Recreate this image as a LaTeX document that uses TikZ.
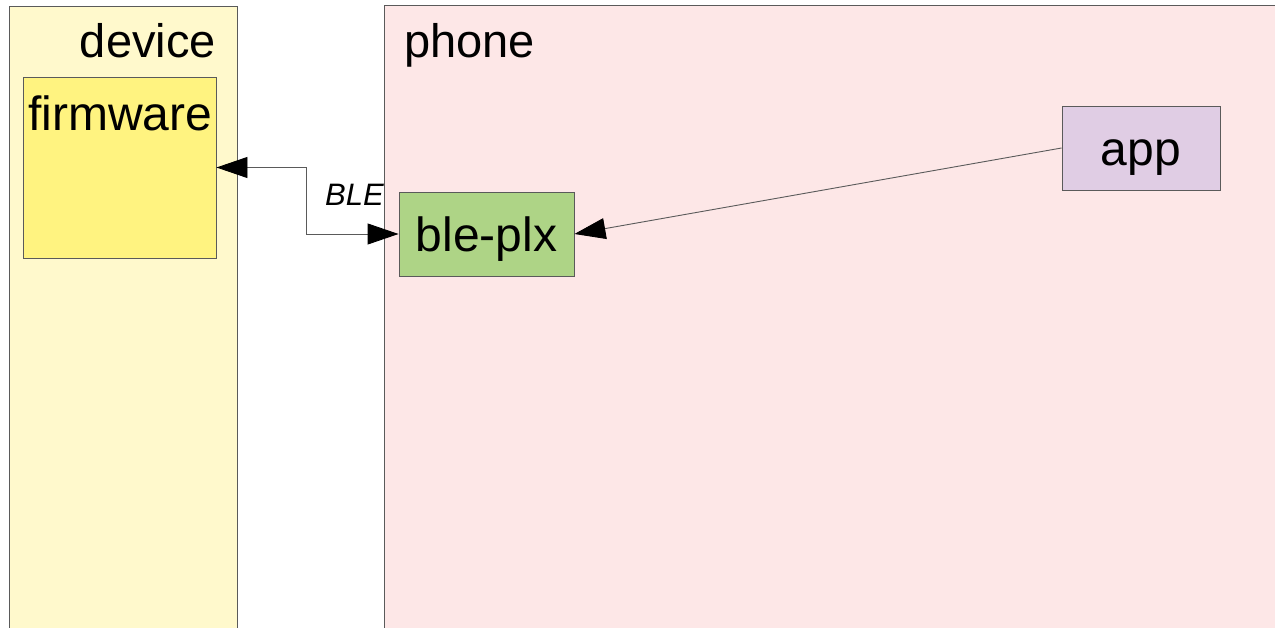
\documentclass[tikz,border=0pt]{standalone}
\usepackage{fontspec}
\setmainfont{Liberation Sans}
\usetikzlibrary{arrows.meta}
\definecolor{devfill}{HTML}{FFF9CC}
\definecolor{fwfill}{HTML}{FFF380}
\definecolor{phonefill}{HTML}{FDE7E7}
\definecolor{blefill}{HTML}{AED486}
\definecolor{appfill}{HTML}{E0CDE4}
\definecolor{edge}{HTML}{5A5A5A}
\tikzset{
  zone/.style={draw=edge, line width=0.9pt},
  comp/.style={draw=edge, line width=0.9pt, inner sep=0pt, text height=41pt, text depth=6pt,
    font=\fontsize{48}{50}\selectfont},
  title/.style={font=\fontsize{47}{50}\selectfont, inner sep=0pt},
  link/.style={draw=edge, line width=0.9pt},
  tip/.style={-{Triangle[length=31pt,width=21pt,color=black]}},
  tips/.style={{Triangle[length=31pt,width=21pt,color=black]}-{Triangle[length=31pt,width=21pt,color=black]}}
}
\begin{document}
\begin{tikzpicture}[x=1pt,y=-1pt]
  \useasboundingbox (0,0) rectangle (1275,628);
  \fill[white] (0,0) rectangle (1275,628);
  \begin{scope}
    \clip (0,0) rectangle (1275,627);
    % swim lanes
    \filldraw[zone, fill=devfill] (9,6) rectangle (237,700);
    \filldraw[zone, fill=phonefill] (384.5,5.5) rectangle (1300,700);
  \end{scope}
  \node[title, anchor=base east] (devlbl) at (216,58) {device};
  \node[title, anchor=base west] (phonelbl) at (404,58) {phone};

  % components
  \node[comp, fill=fwfill, minimum width=193pt, minimum height=181pt] (fw) at (119.5,167.5) {};
  \node[title, font=\fontsize{48}{50}\selectfont, anchor=base west] (fwlbl) at (28,131) {firmware};
  \node[comp, fill=blefill, minimum width=175pt, minimum height=84pt] (ble) at (486.5,234) {ble-plx};
  \node[comp, fill=appfill, minimum width=158pt, minimum height=84pt] (app) at (1141,148) {app};

  % connectors
  \draw[link, tips] (fw.east) -- ++(90,0) coordinate (bend) |- (ble.west);
  \node[font=\itshape\fontsize{31}{33}\selectfont, anchor=base west, inner sep=0pt] (blelbl) at (325,206) {BLE};
  \draw[link, tip] (app.west) -- (ble.east);
\end{tikzpicture}
\end{document}
